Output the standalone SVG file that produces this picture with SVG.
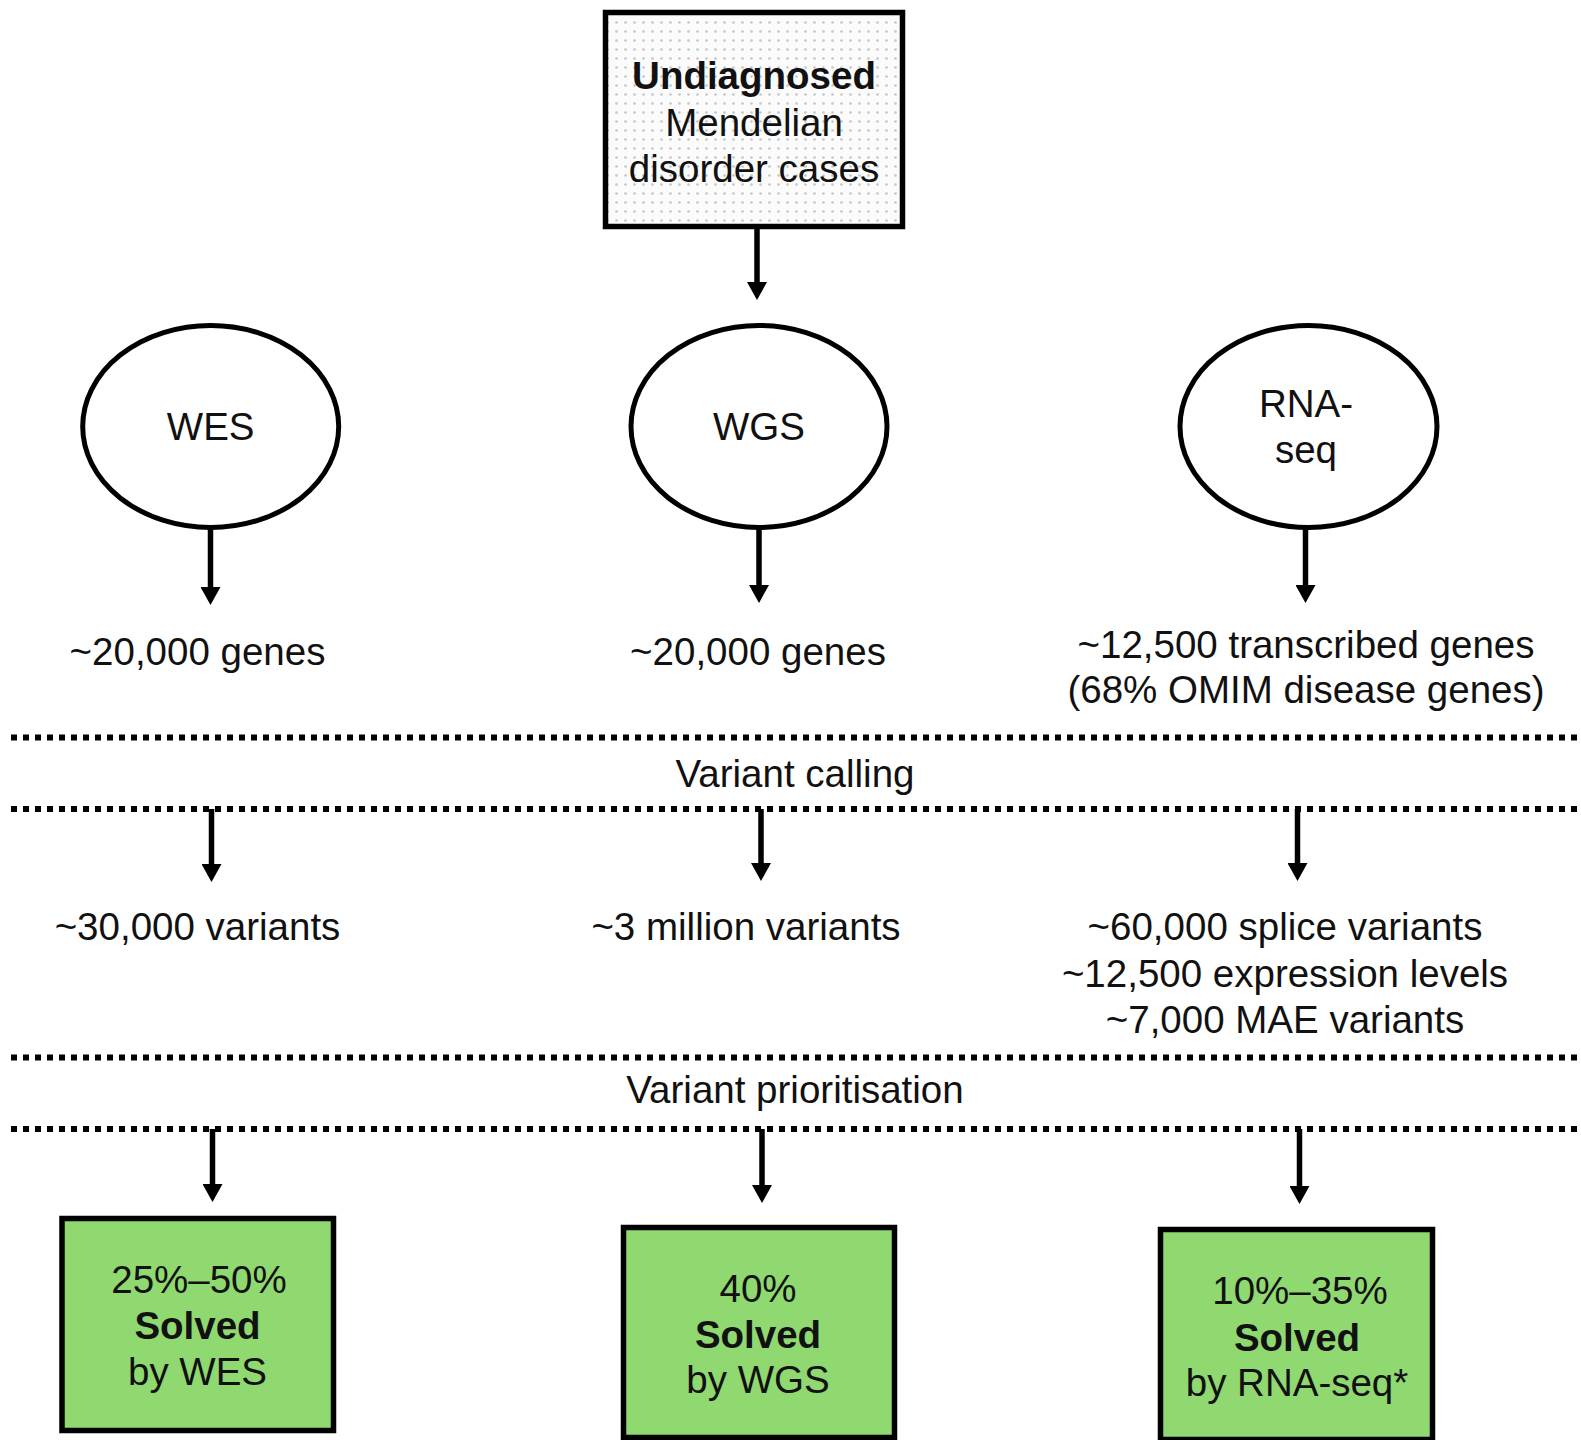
<svg xmlns="http://www.w3.org/2000/svg" width="1581" height="1440" viewBox="0 0 1581 1440">
<style>
text{font-family:"Liberation Sans",Arial,sans-serif;font-size:38.5px;fill:#111;text-anchor:middle}
.b{font-weight:bold}
.node{stroke:#000;stroke-width:5.5}
.ell{fill:#fff;stroke:#000;stroke-width:5}
.green{fill:#90d870;stroke:#000;stroke-width:5.5}
.arrow{stroke:#000;stroke-width:5.5;fill:none;marker-end:url(#ah)}
.dots{stroke:#000;stroke-width:6;stroke-dasharray:6 6;fill:none}
</style>
<defs>
<pattern id="dotpat" width="9" height="9" patternUnits="userSpaceOnUse">
<rect width="9" height="9" fill="#fbfbfb"/>
<circle cx="4.5" cy="4.5" r="1.3" fill="#c4c4c4"/>
</pattern>
<marker id="ah" viewBox="0 0 18 20" markerWidth="18" markerHeight="20" refX="0" refY="10" orient="auto" markerUnits="userSpaceOnUse">
<path d="M0,0 L18,10 L0,20 Z" fill="#000"/>
</marker>
</defs>
<rect width="1581" height="1440" fill="#fff"/>

<g id="separators">
<line class="dots" x1="11" y1="737.5" x2="1581" y2="737.5"/>
<line class="dots" x1="11" y1="809" x2="1581" y2="809"/>
<line class="dots" x1="11" y1="1057.5" x2="1581" y2="1057.5"/>
<line class="dots" x1="11" y1="1129" x2="1581" y2="1129"/>
</g>

<g id="connectors">
<line class="arrow" x1="757" y1="227" x2="757" y2="282"/>
<line class="arrow" x1="210.5" y1="527" x2="210.5" y2="587"/>
<line class="arrow" x1="759" y1="527" x2="759" y2="585"/>
<line class="arrow" x1="1305.5" y1="529" x2="1305.5" y2="585"/>
<line class="arrow" x1="211.5" y1="809" x2="211.5" y2="864"/>
<line class="arrow" x1="761" y1="809" x2="761" y2="863"/>
<line class="arrow" x1="1297.5" y1="809" x2="1297.5" y2="863"/>
<line class="arrow" x1="212.5" y1="1129" x2="212.5" y2="1184"/>
<line class="arrow" x1="762" y1="1129" x2="762" y2="1185"/>
<line class="arrow" x1="1299.5" y1="1129" x2="1299.5" y2="1186"/>
</g>

<g id="undiagnosed">
<rect class="node" x="605.5" y="12.5" width="297" height="214" fill="url(#dotpat)"/>
<text class="b" x="754" y="88.5">Undiagnosed</text>
<text x="754" y="135.5">Mendelian</text>
<text x="754" y="182">disorder cases</text>
</g>

<g id="wes">
<ellipse class="ell" cx="210.7" cy="426.5" rx="128" ry="101"/>
<text x="210.7" y="440">WES</text>
</g>
<g id="wgs">
<ellipse class="ell" cx="759" cy="426.5" rx="128" ry="101"/>
<text x="759" y="440">WGS</text>
</g>
<g id="rnaseq">
<ellipse class="ell" cx="1308.5" cy="426.5" rx="128.5" ry="101"/>
<text x="1306" y="416.5">RNA-</text>
<text x="1306" y="463">seq</text>
</g>

<g id="wes-genes"><text x="197.5" y="665">~20,000 genes</text></g>
<g id="wgs-genes"><text x="758" y="665">~20,000 genes</text></g>
<g id="rna-genes">
<text x="1306" y="658">~12,500 transcribed genes</text>
<text x="1306" y="703">(68% OMIM disease genes)</text>
</g>

<g id="label-calling"><text x="795" y="786.5">Variant calling</text></g>

<g id="wes-variants"><text x="197.5" y="940">~30,000 variants</text></g>
<g id="wgs-variants"><text x="746" y="940">~3 million variants</text></g>
<g id="rna-variants">
<text x="1285" y="940">~60,000 splice variants</text>
<text x="1285" y="987">~12,500 expression levels</text>
<text x="1285" y="1033">~7,000 MAE variants</text>
</g>

<g id="label-prioritisation"><text x="795" y="1103">Variant prioritisation</text></g>

<g id="wes-solved">
<rect class="green" x="62" y="1218.5" width="271.5" height="212"/>
<text x="199" y="1293">25%–50%</text>
<text class="b" x="197.5" y="1339">Solved</text>
<text x="197.5" y="1385">by WES</text>
</g>
<g id="wgs-solved">
<rect class="green" x="623.5" y="1227.5" width="271" height="210"/>
<text x="758" y="1302">40%</text>
<text class="b" x="758" y="1348">Solved</text>
<text x="758" y="1393">by WGS</text>
</g>
<g id="rna-solved">
<rect class="green" x="1160.5" y="1229.5" width="272" height="210"/>
<text x="1300" y="1304">10%–35%</text>
<text class="b" x="1297" y="1351">Solved</text>
<text x="1297" y="1396">by RNA-seq*</text>
</g>
</svg>
